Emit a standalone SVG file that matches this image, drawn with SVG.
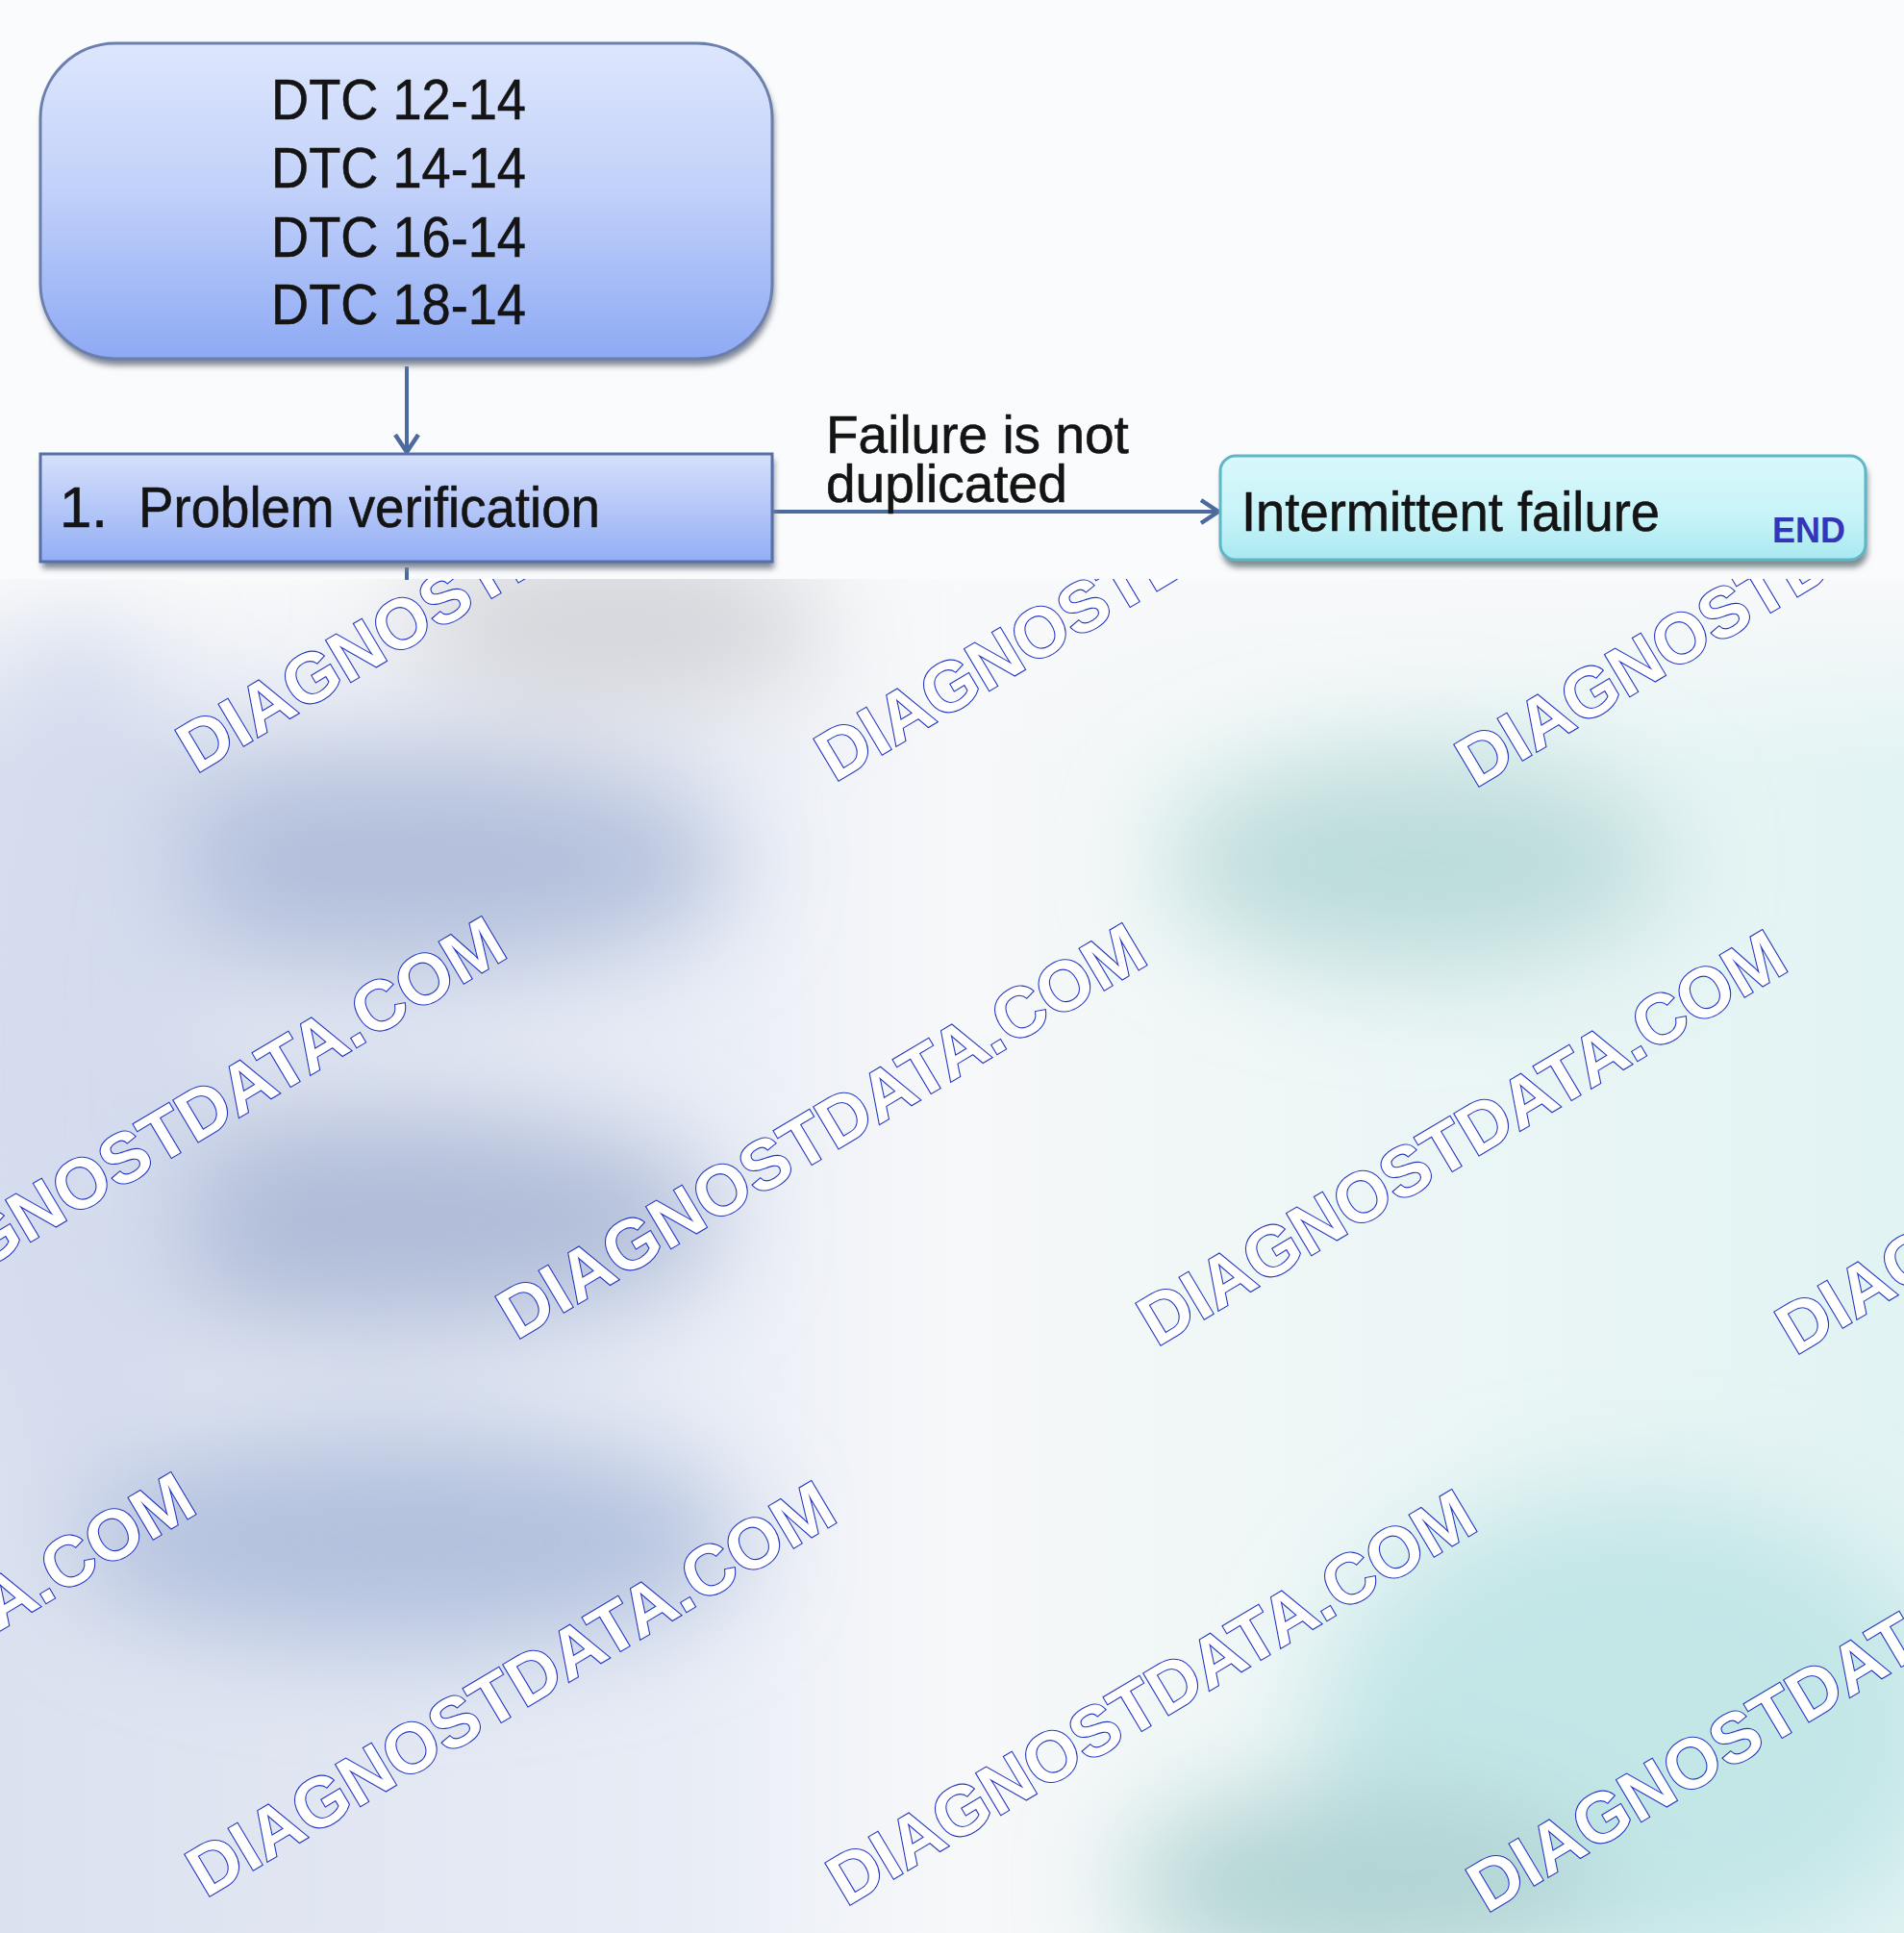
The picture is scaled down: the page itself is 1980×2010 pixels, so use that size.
<svg xmlns="http://www.w3.org/2000/svg" width="1980" height="2010" viewBox="0 0 1980 2010">
<style>
.lbl{font-family:"Liberation Sans",Arial,sans-serif;fill:#141414;stroke:#141414;stroke-width:0.6}
.wm{font-family:"Liberation Sans",Arial,sans-serif;font-weight:bold;font-size:73px;fill:#ffffff;stroke:#2236c0;stroke-width:2.2;paint-order:stroke}
.conn{stroke:#4c6a9e;stroke-width:4;fill:none}
</style>
<defs>
<linearGradient id="gBlue" x1="0" y1="0" x2="0" y2="1">
<stop offset="0" stop-color="#dde6fc"/>
<stop offset="0.45" stop-color="#c3d2fa"/>
<stop offset="1" stop-color="#8eaaf4"/>
</linearGradient>
<linearGradient id="gBlue2" x1="0" y1="0" x2="0" y2="1">
<stop offset="0" stop-color="#d6e0fb"/>
<stop offset="1" stop-color="#93aef5"/>
</linearGradient>
<linearGradient id="gCyan" x1="0" y1="0" x2="0" y2="1">
<stop offset="0" stop-color="#d9f8fb"/>
<stop offset="0.6" stop-color="#c6f3f8"/>
<stop offset="1" stop-color="#a9e8f0"/>
</linearGradient>
<linearGradient id="gBg" x1="0" y1="0" x2="1" y2="0">
<stop offset="0" stop-color="#dbe1ef"/>
<stop offset="0.35" stop-color="#e7ecf5"/>
<stop offset="0.5" stop-color="#f7f8fa"/>
<stop offset="0.62" stop-color="#f1f7f7"/>
<stop offset="1" stop-color="#e2f3f3"/>
</linearGradient>
<linearGradient id="gFade" x1="0" y1="0" x2="0" y2="1">
<stop offset="0" stop-color="#f8f9fa" stop-opacity="1"/>
<stop offset="1" stop-color="#f8f9fa" stop-opacity="0"/>
</linearGradient>
<filter id="blur" x="-50%" y="-50%" width="200%" height="200%"><feGaussianBlur stdDeviation="55"/></filter>
<filter id="shadow" x="-5%" y="-10%" width="110%" height="130%"><feGaussianBlur stdDeviation="3"/></filter>
<clipPath id="lower"><rect x="0" y="602" width="1980" height="1408"/></clipPath>
<marker id="ah" viewBox="0 0 20 28" refX="19" refY="14" markerWidth="20" markerHeight="28" markerUnits="userSpaceOnUse" orient="auto">
<path d="M1,2 L19,14 L1,26" fill="none" stroke="#4c6a9e" stroke-width="4.5"/>
</marker>
</defs>

<g id="background">
<rect x="0" y="0" width="1980" height="2010" fill="#fafbfc"/>
<g clip-path="url(#lower)">
<rect x="0" y="602" width="1980" height="1408" fill="url(#gBg)"/>
<rect x="0" y="602" width="1980" height="200" fill="url(#gFade)"/>
<g filter="url(#blur)">
<ellipse cx="640" cy="650" rx="220" ry="90" fill="#d4d6db"/>
<ellipse cx="423" cy="897" rx="340" ry="110" fill="#b3bfdb"/>
<ellipse cx="410" cy="1269" rx="340" ry="110" fill="#b0bcd8"/>
<ellipse cx="423" cy="1602" rx="350" ry="110" fill="#b3c1de"/>
<ellipse cx="80" cy="1100" rx="130" ry="450" fill="#d4dcee"/>
<ellipse cx="1474" cy="897" rx="260" ry="110" fill="#bcdcdb"/>
<ellipse cx="1700" cy="1800" rx="330" ry="250" fill="#c3e6e7"/>
<ellipse cx="1420" cy="1960" rx="250" ry="100" fill="#b2d4d4"/>
</g>
</g>
</g>

<g id="watermarks" clip-path="url(#lower)">
<text class="wm" transform="translate(204,805) rotate(-30.8)">DIAGNOSTDATA.COM</text>
<text class="wm" transform="translate(868,814) rotate(-30.8)">DIAGNOSTDATA.COM</text>
<text class="wm" transform="translate(1534,820) rotate(-30.8)">DIAGNOSTDATA.COM</text>
<text class="wm" transform="translate(-129,1387) rotate(-30.8)">DIAGNOSTDATA.COM</text>
<text class="wm" transform="translate(537,1394) rotate(-30.8)">DIAGNOSTDATA.COM</text>
<text class="wm" transform="translate(1203,1401) rotate(-30.8)">DIAGNOSTDATA.COM</text>
<text class="wm" transform="translate(1867,1410) rotate(-30.8)">DIAGNOSTDATA.COM</text>
<text class="wm" transform="translate(-452,1965) rotate(-30.8)">DIAGNOSTDATA.COM</text>
<text class="wm" transform="translate(214,1974) rotate(-30.8)">DIAGNOSTDATA.COM</text>
<text class="wm" transform="translate(880,1983) rotate(-30.8)">DIAGNOSTDATA.COM</text>
<text class="wm" transform="translate(1546,1990) rotate(-30.8)">DIAGNOSTDATA.COM</text>
</g>

<g id="connectors">
<line class="conn" x1="423" y1="381" x2="423" y2="470" marker-end="url(#ah)"/>
<line class="conn" x1="423" y1="590" x2="423" y2="603"/>
<line class="conn" x1="803" y1="532" x2="1267" y2="532" marker-end="url(#ah)"/>
<text class="lbl" font-size="55"><tspan x="859" y="471">Failure is not</tspan><tspan x="859" y="522">duplicated</tspan></text>
</g>

<g id="node-dtc">
<rect x="44" y="51" width="761" height="329" rx="78" fill="#7e8594" filter="url(#shadow)"/>
<rect x="42" y="45" width="761" height="328" rx="78" fill="url(#gBlue)" stroke="#6b7fae" stroke-width="3"/>
<text class="lbl" x="282" y="124" font-size="60" textLength="265" lengthAdjust="spacingAndGlyphs">DTC 12-14</text>
<text class="lbl" x="282" y="195" font-size="60" textLength="265" lengthAdjust="spacingAndGlyphs">DTC 14-14</text>
<text class="lbl" x="282" y="267" font-size="60" textLength="265" lengthAdjust="spacingAndGlyphs">DTC 16-14</text>
<text class="lbl" x="282" y="337" font-size="60" textLength="265" lengthAdjust="spacingAndGlyphs">DTC 18-14</text>
</g>

<g id="node-verification">
<rect x="44" y="478" width="761" height="113" fill="#7e8594" filter="url(#shadow)"/>
<rect x="42" y="472" width="761" height="112" fill="url(#gBlue2)" stroke="#5670a8" stroke-width="3"/>
<text class="lbl" x="62" y="548" font-size="60">1.</text>
<text class="lbl" x="144" y="548" font-size="60" textLength="480" lengthAdjust="spacingAndGlyphs">Problem verification</text>
</g>

<g id="node-intermittent">
<rect x="1271" y="480" width="671" height="110" rx="16" fill="#7f8c90" filter="url(#shadow)"/>
<rect x="1269" y="474" width="671" height="108" rx="16" fill="url(#gCyan)" stroke="#5eb6c6" stroke-width="3"/>
<text class="lbl" x="1291" y="552" font-size="58" textLength="435" lengthAdjust="spacingAndGlyphs">Intermittent failure</text>
<text x="1843" y="564" font-family="Liberation Sans, Arial, sans-serif" font-weight="bold" font-size="36" fill="#3535b8">END</text>
</g>
</svg>
